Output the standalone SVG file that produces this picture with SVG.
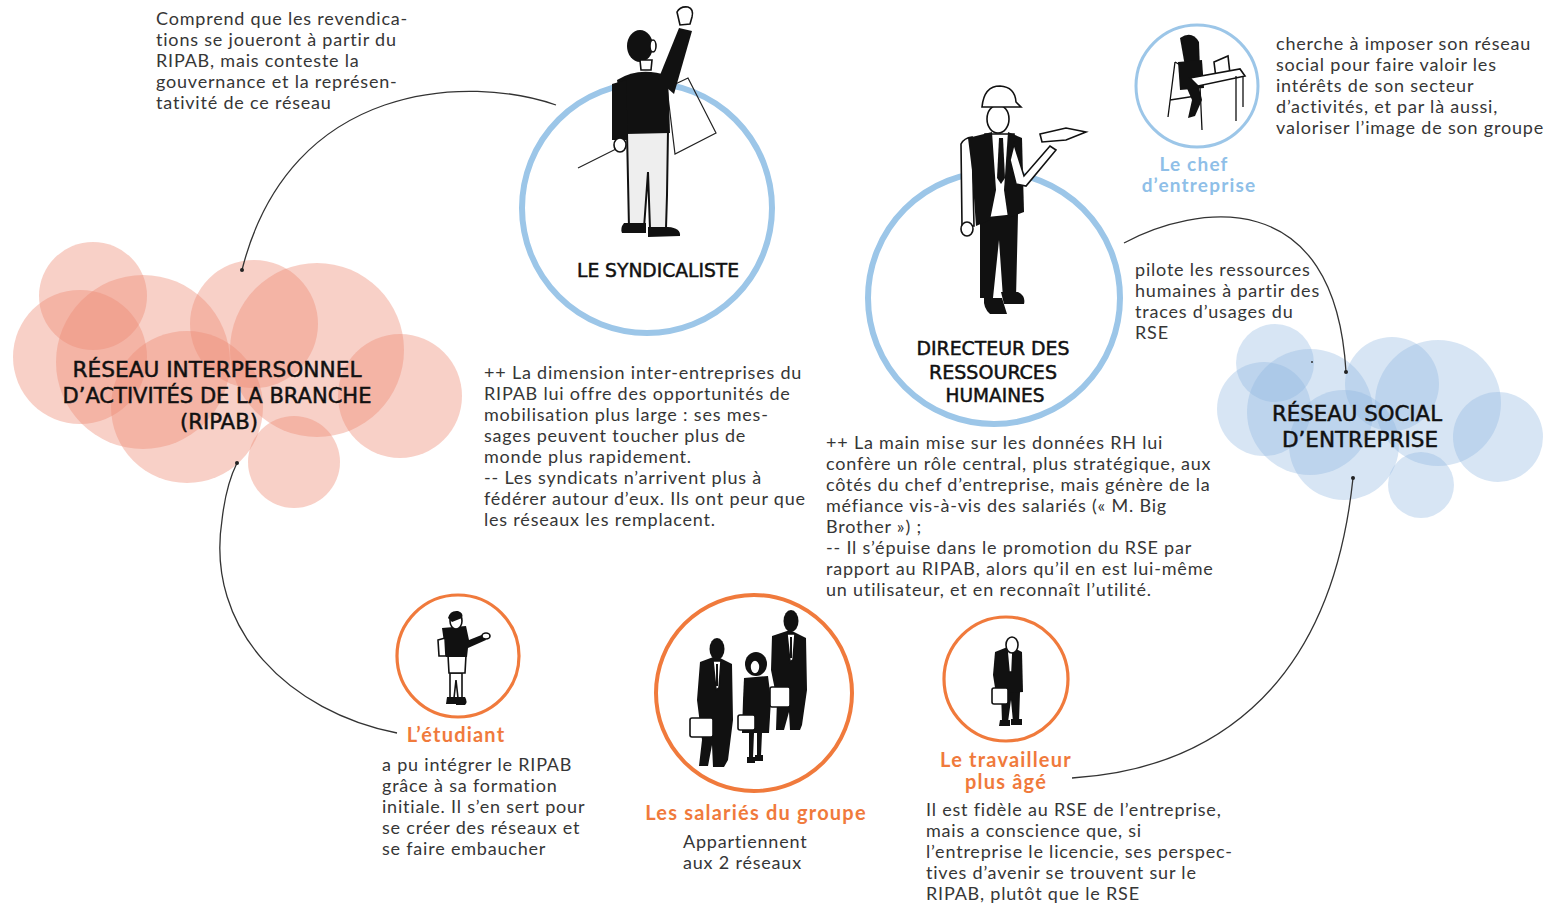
<svg xmlns="http://www.w3.org/2000/svg" width="1549" height="904" viewBox="0 0 1549 904">
  <defs>
    <style>
      .t { font-family: Lato, "Open Sans", "Liberation Sans", sans-serif; font-size: 18px; letter-spacing: 0.8px; fill: #363636; }
      .cap { font-family: "DejaVu Sans Condensed", "DejaVu Sans", "Liberation Sans", sans-serif; fill: #111; stroke: #111; stroke-width: 0.45px; text-anchor: middle; }
      .lo { font-family: Lato, "Open Sans", sans-serif; font-weight: bold; font-size: 20px; letter-spacing: 1.2px; fill: #f07a3c; text-anchor: middle; }
      .lb { font-family: Lato, "Open Sans", sans-serif; font-weight: bold; font-size: 19px; letter-spacing: 1.2px; fill: #8fbfe8; text-anchor: middle; }
      .rb { fill: #fff; stroke: #9cc6e8; }
      .ro { fill: #fff; stroke: #f07a3c; }
      .cr { fill: #ee8a72; fill-opacity: 0.4; }
      .cb { fill: #8bb4e0; fill-opacity: 0.35; }
      .link { fill: none; stroke: #333; stroke-width: 1.3; }
      .ink { fill: #111; }
      .wh { fill: #fff; stroke: #111; stroke-width: 1.6; }
      .ln { fill: none; stroke: #111; stroke-width: 1.3; }
    </style>
    <marker id="dot" viewBox="0 0 6 6" refX="3" refY="3" markerWidth="6" markerHeight="6" markerUnits="userSpaceOnUse">
      <circle cx="3" cy="3" r="2" fill="#222"/>
    </marker>
  </defs>
  <rect width="1549" height="904" fill="#fff"/>

  <!-- interpersonal branch network cloud -->
  <g id="ripab">
    <circle class="cr" cx="93" cy="296" r="54"/>
    <circle class="cr" cx="80" cy="357" r="67"/>
    <circle class="cr" cx="143" cy="362" r="87"/>
    <circle class="cr" cx="187" cy="407" r="76"/>
    <circle class="cr" cx="254" cy="324" r="64"/>
    <circle class="cr" cx="317" cy="350" r="87"/>
    <circle class="cr" cx="400" cy="396" r="62"/>
    <circle class="cr" cx="294" cy="462" r="46"/>
    <text class="cap" font-size="22" x="217" y="377" textLength="289" lengthAdjust="spacingAndGlyphs">RÉSEAU INTERPERSONNEL</text>
    <text class="cap" font-size="22" x="217" y="403" textLength="309" lengthAdjust="spacingAndGlyphs">D’ACTIVITÉS DE LA BRANCHE</text>
    <text class="cap" font-size="22" x="219" y="429" textLength="78" lengthAdjust="spacingAndGlyphs">(RIPAB)</text>
  </g>

  <!-- corporate social network cloud -->
  <g id="rse">
    <circle class="cb" cx="1275" cy="363" r="39"/>
    <circle class="cb" cx="1264" cy="409" r="47"/>
    <circle class="cb" cx="1310" cy="412" r="63"/>
    <circle class="cb" cx="1344" cy="445" r="55"/>
    <circle class="cb" cx="1392" cy="384" r="47"/>
    <circle class="cb" cx="1438" cy="403" r="63"/>
    <circle class="cb" cx="1498" cy="437" r="45"/>
    <circle class="cb" cx="1421" cy="485" r="33"/>
    <circle cx="1312" cy="362" r="1" fill="#333"/>
    <text class="cap" font-size="21" x="1357" y="421" textLength="170" lengthAdjust="spacingAndGlyphs">RÉSEAU SOCIAL</text>
    <text class="cap" font-size="21" x="1360" y="447" textLength="156" lengthAdjust="spacingAndGlyphs">D’ENTREPRISE</text>
  </g>

  <!-- connectors -->
  <g id="connectors">
    <path class="link" d="M556,105 C470,75 290,80 242,270" marker-end="url(#dot)"/>
    <path class="link" d="M397,733 C290,712 205,630 222,520 Q226,485 237,463" marker-end="url(#dot)"/>
    <path class="link" d="M1124,243 C1195,205 1335,182 1346,372" marker-end="url(#dot)"/>
    <path class="link" d="M1072,778 C1200,770 1330,700 1353,478" marker-end="url(#dot)"/>
  </g>

  <!-- union representative -->
  <g id="syndicaliste">
    <circle class="rb" stroke-width="6" cx="647" cy="208" r="125"/>
    <polygon points="667,88 688,78 716,133 675,154" fill="none" stroke="#222" stroke-width="1.2"/>
    <line x1="578" y1="168" x2="622" y2="146" stroke="#222" stroke-width="1.2"/>
    <path d="M627,132 L668,130 L667,195 L666,228 L650,229 L648,172 L644,228 L629,228 L628,180 Z" fill="#eee" stroke="#111" stroke-width="2"/>
    <path class="ink" d="M624,223 L646,223 L646,233 L622,233 Q620,228 624,223 Z"/>
    <path class="ink" d="M648,227 L668,227 Q681,228 680,236 L648,237 Z"/>
    <path class="ink" d="M617,80 Q640,66 668,76 L670,133 L626,134 Z"/>
    <path class="ink" d="M658,80 L679,28 L692,31 L674,94 Z"/>
    <path class="ink" d="M612,84 L626,80 L628,140 L612,140 Z"/>
    <ellipse class="wh" cx="620" cy="145" rx="6" ry="7"/>
    <path class="wh" d="M677,12 Q680,6 688,7 Q694,9 692,17 L690,24 L680,25 Z"/>
    <ellipse class="ink" cx="640" cy="46" rx="13" ry="16"/>
    <ellipse class="wh" cx="653" cy="46" rx="3" ry="6"/>
    <path class="wh" d="M640,60 L652,60 L651,70 L641,70 Z" stroke-width="1"/>
    <text class="cap" font-size="19" x="658" y="277" textLength="162" lengthAdjust="spacingAndGlyphs">LE SYNDICALISTE</text>
  </g>

  <!-- HR director -->
  <g id="drh">
    <circle class="rb" stroke-width="6" cx="994" cy="298" r="126"/>
    <path class="ink" d="M980,214 L1018,214 L1016,298 L1003,298 L999,240 L993,298 L980,298 Z"/>
    <path class="ink" d="M984,298 L1002,298 L1007,314 L990,314 Q983,308 984,298 Z"/>
    <path class="ink" d="M1001,292 L1018,292 Q1026,296 1024,304 L1004,304 Z"/>
    <path class="wh" d="M961,144 Q964,138 972,137 L974,226 L962,226 Z"/>
    <ellipse class="wh" cx="967" cy="229" rx="6" ry="7"/>
    <path class="wh" d="M985,134 L1014,134 L1014,215 L985,218 Z"/>
    <path class="ink" d="M968,138 L992,132 L996,190 L990,220 L976,226 L972,170 Z"/>
    <path class="ink" d="M1008,132 L1022,138 L1024,212 L1008,218 L1004,190 Z"/>
    <path class="ink" d="M999,138 L1003,138 L1005,178 L1001,184 L997,178 Z"/>
    <path class="wh" d="M1014,144 L1024,176 L1050,146 L1056,150 L1026,186 L1016,184 L1010,160 Z"/>
    <path class="wh" d="M1040,134 L1066,128 L1086,132 L1066,140 L1042,142 Z"/>
    <ellipse class="wh" cx="998" cy="119" rx="11" ry="14"/>
    <path class="wh" d="M982,107 Q984,86 1000,86 Q1015,87 1016,102 L1021,107 Z"/>
    <text class="cap" font-size="19" x="993" y="355" textLength="153" lengthAdjust="spacingAndGlyphs">DIRECTEUR DES</text>
    <text class="cap" font-size="19" x="993" y="379" textLength="128" lengthAdjust="spacingAndGlyphs">RESSOURCES</text>
    <text class="cap" font-size="19" x="995" y="402" textLength="99" lengthAdjust="spacingAndGlyphs">HUMAINES</text>
  </g>

  <!-- company head at her desk -->
  <g id="chef">
    <circle class="rb" stroke-width="3" cx="1197" cy="86" r="61"/>
    <path class="ln" d="M1175,62 L1168,117 M1175,62 L1182,66 M1170,100 L1196,96"/>
    <path class="ink" d="M1186,86 L1198,84 L1202,100 L1195,116 L1188,118 L1192,100 Z"/>
    <path class="ink" d="M1180,38 Q1192,30 1199,42 L1200,70 L1186,72 Z"/>
    <path class="ink" d="M1178,62 L1202,60 L1204,88 L1180,90 Z"/>
    <path class="wh" d="M1214,62 L1228,56 L1230,74 L1216,78 Z" stroke-width="1.2"/>
    <path class="wh" d="M1190,78 L1240,69 L1245,76 L1198,86 Z" stroke-width="1.2"/>
    <path class="ln" d="M1200,86 L1202,130 M1236,76 L1236,121 M1243,76 L1243,107"/>
    <text class="lb" x="1194" y="171">Le chef</text>
    <text class="lb" x="1199" y="192">d’entreprise</text>
  </g>

  <!-- student -->
  <g id="etudiant">
    <circle class="ro" stroke-width="3.2" cx="458" cy="656" r="61"/>
    <path class="wh" d="M450,673 L462,673 L462,698 L458,698 L456,680 L454,698 L450,698 Z" stroke-width="1.2"/>
    <path class="ink" d="M447,697 L457,697 L457,704 L446,704 Z"/>
    <path class="ink" d="M456,697 L465,697 Q468,702 465,705 L456,705 Z"/>
    <path class="wh" d="M448,655 L466,655 L465,673 L449,673 Z" stroke-width="1.2"/>
    <path class="ink" d="M442,628 L466,626 L469,640 L484,634 L486,640 L468,648 L467,657 L446,657 Z"/>
    <path class="wh" d="M438,640 L445,638 L446,656 L439,656 Z" stroke-width="1.2"/>
    <ellipse class="wh" cx="486" cy="636" rx="4" ry="3" stroke-width="1.2"/>
    <ellipse class="wh" cx="456" cy="621" rx="6" ry="8" stroke-width="1.2"/>
    <path class="ink" d="M448,618 Q450,610 458,611 Q464,613 462,618 L452,622 Z"/>
    <text class="lo" x="456" y="742">L’étudiant</text>
  </g>

  <!-- group employees -->
  <g id="salaries">
    <circle class="ro" stroke-width="4" cx="754" cy="693" r="98"/>
    <!-- man on the left -->
    <path class="ink" d="M700,662 L716,656 L732,664 L733,720 L728,760 L724,767 L713,767 L712,745 L708,766 L699,766 L702,740 L697,700 Z"/>
    <path class="wh" d="M713,661 L721,661 L719,688 L716,690 Z" stroke-width="1"/>
    <path class="ink" d="M716,664 L718,664 L718,686 L716,686 Z"/>
    <ellipse class="ink" cx="717" cy="649" rx="7.5" ry="11"/>
    <rect class="wh" x="690" y="718" width="23" height="19" rx="2"/>
    <!-- woman -->
    <path class="ink" d="M744,678 L768,676 L771,700 L769,733 L742,733 L743,700 Z"/>
    <path class="ink" d="M749,733 L754,733 L753,758 L749,758 Z M757,733 L762,733 L761,756 L757,756 Z"/>
    <path class="ink" d="M747,757 L755,757 L755,763 L747,763 Z M755,755 L763,755 L763,761 L755,761 Z"/>
    <ellipse class="ink" cx="756" cy="664" rx="11" ry="12"/>
    <ellipse class="wh" cx="755" cy="667" rx="5" ry="7" stroke-width="1"/>
    <rect class="wh" x="738" y="715" width="17" height="15" rx="2"/>
    <!-- man on the right -->
    <path class="ink" d="M772,636 L790,630 L806,638 L807,690 L802,725 L800,730 L790,730 L789,712 L784,730 L776,730 L777,700 L771,670 Z"/>
    <path class="wh" d="M787,634 L795,634 L793,660 L790,662 Z" stroke-width="1"/>
    <path class="ink" d="M790,637 L792,637 L792,658 L790,658 Z"/>
    <ellipse class="ink" cx="791" cy="621" rx="7.5" ry="11"/>
    <rect class="wh" x="770" y="687" width="20" height="20" rx="2"/>
    <text class="lo" x="756" y="820">Les salariés du groupe</text>
  </g>

  <!-- older worker -->
  <g id="travailleur">
    <circle class="ro" stroke-width="3.2" cx="1006" cy="679" r="62"/>
    <path class="ink" d="M1001,692 L1020,692 L1019,722 L1013,722 L1011,700 L1008,722 L1002,722 Z"/>
    <path class="ink" d="M1000,720 L1010,720 L1010,726 L999,726 Z M1011,719 L1022,719 L1022,725 L1011,725 Z"/>
    <path class="ink" d="M995,652 L1010,646 L1022,652 L1023,692 L996,694 L993,675 Z"/>
    <path class="wh" d="M1007,650 L1013,650 L1012,672 L1009,672 Z" stroke-width="1"/>
    <ellipse class="wh" cx="1012" cy="645" rx="6" ry="8" stroke-width="1.2"/>
    <rect class="wh" x="992" y="688" width="16" height="16" rx="2" stroke-width="1.2"/>
    <text class="lo" x="1006" y="767">Le travailleur</text>
    <text class="lo" x="1006" y="789">plus âgé</text>
  </g>

  <!-- descriptive texts -->
  <g id="textes">
    <text class="t">
      <tspan x="156" y="25">Comprend que les revendica-</tspan>
      <tspan x="156" y="46">tions se joueront à partir du</tspan>
      <tspan x="156" y="67">RIPAB, mais conteste la</tspan>
      <tspan x="156" y="88">gouvernance et la représen-</tspan>
      <tspan x="156" y="109">tativité de ce réseau</tspan>
    </text>
    <text class="t">
      <tspan x="1276" y="50">cherche à imposer son réseau</tspan>
      <tspan x="1276" y="71">social pour faire valoir les</tspan>
      <tspan x="1276" y="92">intérêts de son secteur</tspan>
      <tspan x="1276" y="113">d’activités, et par là aussi,</tspan>
      <tspan x="1276" y="134">valoriser l’image de son groupe</tspan>
    </text>
    <text class="t">
      <tspan x="1135" y="276">pilote les ressources</tspan>
      <tspan x="1135" y="297">humaines à partir des</tspan>
      <tspan x="1135" y="318">traces d’usages du</tspan>
      <tspan x="1135" y="339">RSE</tspan>
    </text>
    <text class="t">
      <tspan x="484" y="379">++ La dimension inter-entreprises du</tspan>
      <tspan x="484" y="400">RIPAB lui offre des opportunités de</tspan>
      <tspan x="484" y="421">mobilisation plus large : ses mes-</tspan>
      <tspan x="484" y="442">sages peuvent toucher plus de</tspan>
      <tspan x="484" y="463">monde plus rapidement.</tspan>
      <tspan x="484" y="484">-- Les syndicats n’arrivent plus à</tspan>
      <tspan x="484" y="505">fédérer autour d’eux. Ils ont peur que</tspan>
      <tspan x="484" y="526">les réseaux les remplacent.</tspan>
    </text>
    <text class="t">
      <tspan x="826" y="449">++ La main mise sur les données RH lui</tspan>
      <tspan x="826" y="470">confère un rôle central, plus stratégique, aux</tspan>
      <tspan x="826" y="491">côtés du chef d’entreprise, mais génère de la</tspan>
      <tspan x="826" y="512">méfiance vis-à-vis des salariés (« M. Big</tspan>
      <tspan x="826" y="533">Brother ») ;</tspan>
      <tspan x="826" y="554">-- Il s’épuise dans le promotion du RSE par</tspan>
      <tspan x="826" y="575">rapport au RIPAB, alors qu’il en est lui-même</tspan>
      <tspan x="826" y="596">un utilisateur, et en reconnaît l’utilité.</tspan>
    </text>
    <text class="t">
      <tspan x="382" y="771">a pu intégrer le RIPAB</tspan>
      <tspan x="382" y="792">grâce à sa formation</tspan>
      <tspan x="382" y="813">initiale. Il s’en sert pour</tspan>
      <tspan x="382" y="834">se créer des réseaux et</tspan>
      <tspan x="382" y="855">se faire embaucher</tspan>
    </text>
    <text class="t">
      <tspan x="683" y="848">Appartiennent</tspan>
      <tspan x="683" y="869">aux 2 réseaux</tspan>
    </text>
    <text class="t">
      <tspan x="926" y="816">Il est fidèle au RSE de l’entreprise,</tspan>
      <tspan x="926" y="837">mais a conscience que, si</tspan>
      <tspan x="926" y="858">l’entreprise le licencie, ses perspec-</tspan>
      <tspan x="926" y="879">tives d’avenir se trouvent sur le</tspan>
      <tspan x="926" y="900">RIPAB, plutôt que le RSE</tspan>
    </text>
  </g>
</svg>
